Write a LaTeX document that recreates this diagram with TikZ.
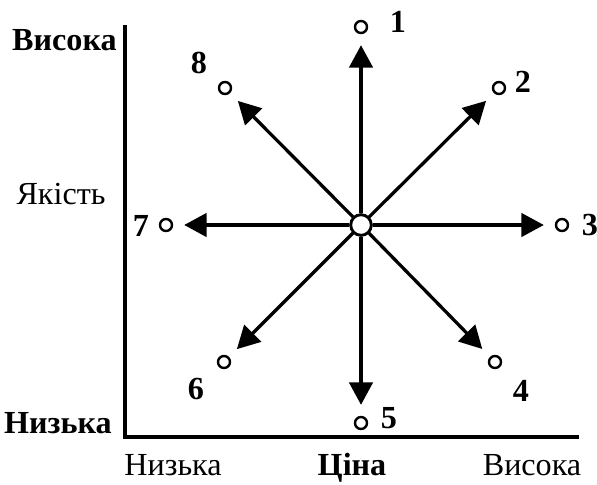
\documentclass[tikz,border=0pt]{standalone}
\usepackage{fontspec}
\setmainfont{Liberation Serif}
\usetikzlibrary{arrows.meta}
\tikzset{
  axis/.style={line width=0.07cm,line cap=rect},
  lbl/.style={font=\fontsize{18.3}{21}\selectfont,inner sep=0pt},
  blbl/.style={font=\fontsize{18.3}{21}\selectfont\bfseries,inner sep=0pt},
  num/.style={font=\fontsize{18.3}{21}\selectfont\bfseries,inner sep=0pt},
  % small open circles at the ends of the directions
  pt/.style={circle,draw,fill=white,line width=0.048cm,minimum size=0.24cm,inner sep=0pt},
  hub/.style={circle,draw,fill=white,line width=0.055cm,minimum size=0.41cm,inner sep=0pt},
  arr/.style={-{Triangle[length=0.45cm,width=0.47cm]},line width=0.065cm,shorten >=0.22cm}
}
\begin{document}
\begin{tikzpicture}[x=0.02cm,y=-0.02cm]
 \useasboundingbox (0,0) rectangle (597,484);
 % axes
 \coordinate (ytop) at (125,27);
 \coordinate (orig) at (125,437);
 \coordinate (xend) at (577,437);
 \draw[axis] (ytop) -- (orig) -- (xend);
 % axis labels
 \node[blbl,anchor=base east] (qhigh) at (117,50) {Висока};
 \node[lbl,anchor=base] (qual) at (61,204) {Якість};
 \node[blbl,anchor=base east] (qlow) at (112,433) {Низька};
 \node[lbl,anchor=base] (plow) at (173,475) {Низька};
 \node[blbl,anchor=base] (price) at (352,475) {Ціна};
 \node[lbl,anchor=base] (phigh) at (532,475) {Висока};
 % centre and the eight directions
 \node[hub] (c) at (361,225) {};
 \foreach \i/\px/\py in {1/361/27,2/499/88,3/562/225,4/495/362,
                         5/361/423,6/224/362,7/166/225,8/225/88}
   \node[pt] (p\i) at (\px,\py) {};
 \foreach \i in {1,...,8}
   \draw[arr] (c) -- (p\i);
 \node[hub] at (c) {};
 \foreach \i/\lx/\ly in {1/398/22,2/523/82,3/590/225,4/521/391,
                         5/389/418,6/196/389,7/141/226,8/199/63}
   \node[num] (n\i) at (\lx,\ly) {\i};
\end{tikzpicture}
\end{document}
